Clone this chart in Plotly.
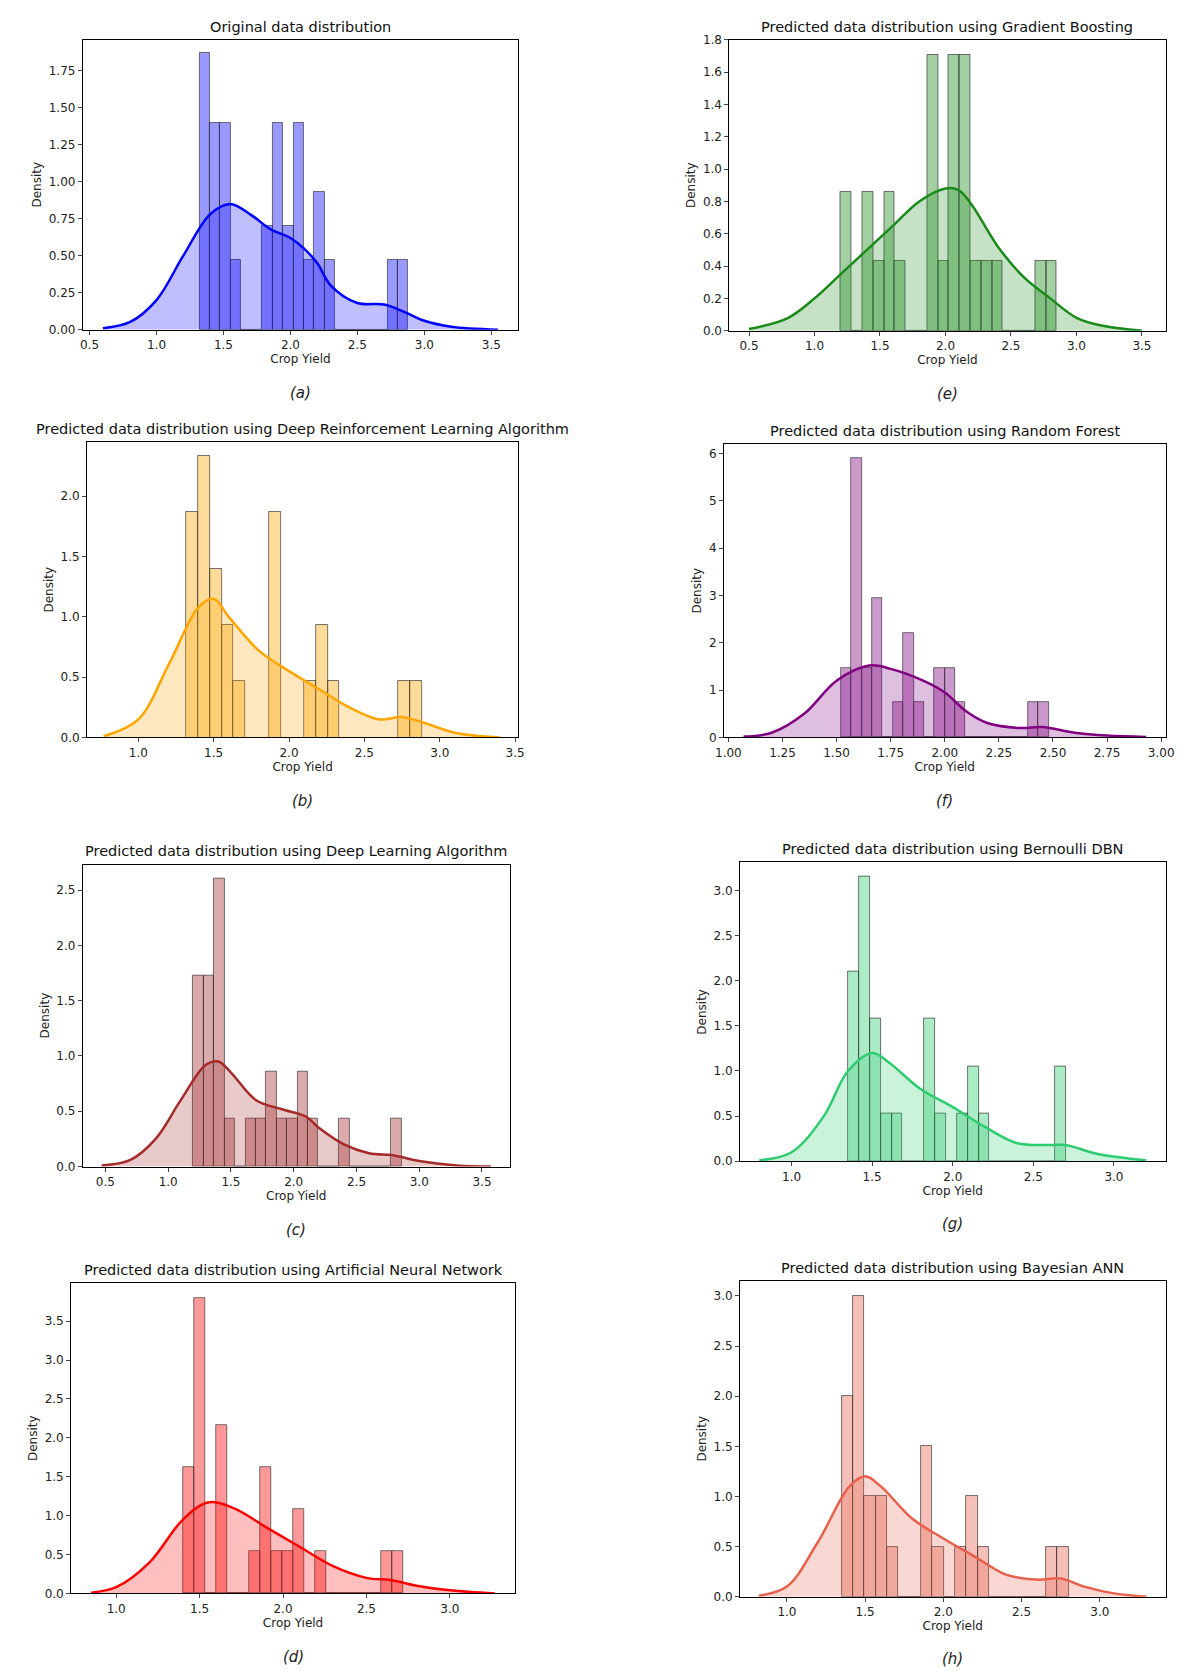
import plotly.graph_objects as go

W, H = 1184, 1671
RW, RH = 1115, 1572  # scale in which panel boxes were measured

titles = ["Original data distribution",
          "Predicted data distribution using Gradient Boosting",
          "Predicted data distribution using Deep Reinforcement Learning Algorithm",
          "Predicted data distribution using Random Forest",
          "Predicted data distribution using Deep Learning Algorithm",
          "Predicted data distribution using Bernoulli DBN",
          "Predicted data distribution using Artificial Neural Network",
          "Predicted data distribution using Bayesian ANN"]
captions = ["(a)", "(e)", "(b)", "(f)", "(c)", "(g)", "(d)", "(h)"]
colors = ["#0000ff", "#1a8a1a", "#ffa500", "#800080", "#a52a2a", "#2ecc71", "#ff0000", "#e8604c"]

bin_start = [1.32, 1.20, 1.32, 1.52, 1.20, 1.35, 1.40, 1.35]
bin_width = [0.078, 0.0825, 0.078, 0.048, 0.083, 0.0675, 0.066, 0.0725]
heights = [
    [1.87,1.40,1.40,0.47,0,0,0.70,1.40,0.70,1.40,0.47,0.93,0.47,0,0,0,0,0,0.47,0.47],
    [0.86,0,0.86,0.43,0.86,0.43,0,0,1.71,0.43,1.71,1.71,0.43,0.43,0.43,0,0,0,0.43,0.43],
    [1.87,2.33,1.40,0.93,0.47,0,0,1.87,0,0,0.47,0.93,0.47,0,0,0,0,0,0.47,0.47],
    [1.47,5.9,1.47,2.95,0,0.74,2.2,0.74,0,1.47,1.47,0.74,0,0,0,0,0,0,0.74,0.74],
    [1.73,1.73,2.6,0.43,0,0.43,0.43,0.86,0.43,0.43,0.86,0.43,0,0,0.43,0,0,0,0,0.43],
    [2.1,3.15,1.58,0.53,0.53,0,0,1.58,0.53,0,0.53,1.05,0.53,0,0,0,0,0,0,1.05],
    [1.63,3.8,0,2.17,0,0,0.54,1.63,0.54,0.54,1.09,0,0.54,0,0,0,0,0,0.54,0.54],
    [2.0,3.0,1.0,1.0,0.5,0,0,1.5,0.5,0,0.5,1.0,0.5,0,0,0,0,0,0.5,0.5],
]
kde_x = [
    [0.6,0.8,1.0,1.2,1.4,1.55,1.7,1.85,2.0,2.1,2.2,2.3,2.5,2.7,2.85,3.0,3.2,3.55],
    [0.5,0.8,1.0,1.2,1.4,1.6,1.8,2.0,2.1,2.2,2.4,2.6,2.8,3.0,3.2,3.5],
    [0.77,1.0,1.2,1.4,1.5,1.6,1.8,2.0,2.2,2.4,2.6,2.75,2.9,3.1,3.4],
    [1.07,1.2,1.35,1.5,1.65,1.75,1.9,2.0,2.1,2.2,2.35,2.45,2.6,2.75,2.93],
    [0.47,0.7,0.9,1.1,1.3,1.4,1.5,1.7,1.9,2.1,2.2,2.4,2.6,2.8,3.0,3.3,3.57],
    [0.8,1.0,1.2,1.35,1.5,1.6,1.8,2.0,2.2,2.4,2.6,2.7,2.9,3.2],
    [0.85,1.0,1.2,1.4,1.55,1.7,1.9,2.1,2.3,2.5,2.65,2.8,3.0,3.27],
    [0.82,1.0,1.2,1.4,1.5,1.6,1.8,2.0,2.2,2.4,2.6,2.75,2.9,3.1,3.3],
]
kde_y = [
    [0.01,0.05,0.2,0.5,0.78,0.85,0.78,0.68,0.62,0.55,0.45,0.3,0.18,0.17,0.12,0.06,0.02,0.0],
    [0.01,0.08,0.2,0.35,0.5,0.65,0.8,0.88,0.87,0.78,0.52,0.33,0.2,0.08,0.03,0.0],
    [0.01,0.15,0.6,1.08,1.15,1.0,0.72,0.55,0.4,0.25,0.15,0.17,0.12,0.04,0.0],
    [0.02,0.1,0.5,1.2,1.52,1.45,1.2,0.95,0.55,0.3,0.2,0.22,0.1,0.04,0.01],
    [0.01,0.06,0.25,0.6,0.92,0.95,0.85,0.6,0.52,0.45,0.35,0.2,0.12,0.1,0.05,0.01,0.0],
    [0.01,0.1,0.5,1.0,1.2,1.1,0.8,0.6,0.38,0.2,0.18,0.18,0.08,0.01],
    [0.01,0.08,0.4,0.95,1.17,1.1,0.85,0.6,0.35,0.2,0.17,0.1,0.04,0.0],
    [0.01,0.1,0.55,1.1,1.2,1.1,0.78,0.58,0.4,0.22,0.17,0.18,0.1,0.03,0.0],
]
x_ranges = [[0.45,3.7],[0.35,3.68],[0.66,3.52],[0.98,3.02],[0.32,3.72],[0.68,3.32],[0.73,3.39],[0.7,3.42]]
y_ranges = [[0,1.96],[0,1.8],[0,2.45],[0,6.2],[0,2.73],[0,3.31],[0,3.99],[0,3.15]]
x_ticks = [[0.5,1.0,1.5,2.0,2.5,3.0,3.5],[0.5,1.0,1.5,2.0,2.5,3.0,3.5],[1.0,1.5,2.0,2.5,3.0,3.5],
           [1.0,1.25,1.5,1.75,2.0,2.25,2.5,2.75,3.0],[0.5,1.0,1.5,2.0,2.5,3.0,3.5],[1.0,1.5,2.0,2.5,3.0],
           [1.0,1.5,2.0,2.5,3.0],[1.0,1.5,2.0,2.5,3.0]]
x_fmt = [".1f",".1f",".1f",".2f",".1f",".1f",".1f",".1f"]
y_dticks = [0.25,0.2,0.5,1,0.5,0.5,0.5,0.5]
y_fmt = [".2f",".1f",".1f",".0f",".1f",".1f",".1f",".1f"]
# panel boxes measured on the reference view: left, right, top, bottom
boxes = [(68,478,28,305),(677,1100,28,306),(72,478,411,690),(672,1097,413,690),
         (68,470,810,1095),(687,1093,808,1090),(57,475,1205,1498),(687,1093,1203,1501)]

def px(v):
    return (v - 6) / 0.985
def py(v):
    return (v - 8) / 0.995

def rgba(hexc, a):
    h = hexc.lstrip("#")
    return f"rgba({int(h[0:2],16)},{int(h[2:4],16)},{int(h[4:6],16)},{a})"

fig = go.Figure()
layout = dict(width=W, height=H, paper_bgcolor="white", plot_bgcolor="white",
              margin=dict(l=0, r=0, t=0, b=0), showlegend=False,
              font=dict(family="DejaVu Sans", size=12, color="#222"))
annotations = []
for i in range(8):
    s = "" if i == 0 else str(i + 1)
    xa, ya = "x" + s, "y" + s
    c = colors[i]
    n = len(heights[i])
    centers = [bin_start[i] + (k + 0.5) * bin_width[i] for k in range(n)]
    fig.add_trace(go.Bar(x=centers, y=heights[i], width=bin_width[i], xaxis=xa, yaxis=ya,
                         marker=dict(color=rgba(c, 0.4), line=dict(color="rgba(40,40,40,0.8)", width=0.8))))
    fig.add_trace(go.Scatter(x=kde_x[i], y=kde_y[i], mode="lines", line=dict(color=c, width=2.5, shape="spline"),
                             fill="tozeroy", fillcolor=rgba(c, 0.25), xaxis=xa, yaxis=ya))
    l, r, t, b = boxes[i]
    l, r, t, b = px(l), px(r), py(t), py(b)
    x0, x1 = max(0.0, l / RW), min(0.985, r / RW)
    y0, y1 = max(0.0, 1 - b / RH), min(0.985, 1 - t / RH)
    ax = dict(showline=True, linecolor="black", linewidth=1, mirror=True, showgrid=False, zeroline=False,
              ticks="outside", ticklen=4, tickfont=dict(size=12))
    layout["xaxis" + s] = dict(ax, domain=[x0, x1], range=x_ranges[i], tickvals=x_ticks[i],
                               tickformat=x_fmt[i], anchor=ya,
                               title=dict(text="Crop Yield", font=dict(size=12), standoff=2))
    layout["yaxis" + s] = dict(ax, domain=[y0, y1], range=y_ranges[i], dtick=y_dticks[i],
                               tickformat=y_fmt[i], anchor=xa, title=dict(text="Density", font=dict(size=12), standoff=4))
    annotations.append(dict(text=titles[i], x=(x0 + x1) / 2, y=y1 + 3 / RH, xref="paper", yref="paper",
                            xanchor="center", yanchor="bottom", showarrow=False, font=dict(size=14.5, color="#111")))
    annotations.append(dict(text="<i>" + captions[i] + "</i>", x=(x0 + x1) / 2, y=max(0.008, y0 - 60 / RH),
                            xref="paper", yref="paper", xanchor="center", yanchor="middle", showarrow=False,
                            font=dict(size=15, color="#222")))
layout["annotations"] = annotations
layout["bargap"] = 0
fig.update_layout(**layout)
fig.write_html("out.html")
